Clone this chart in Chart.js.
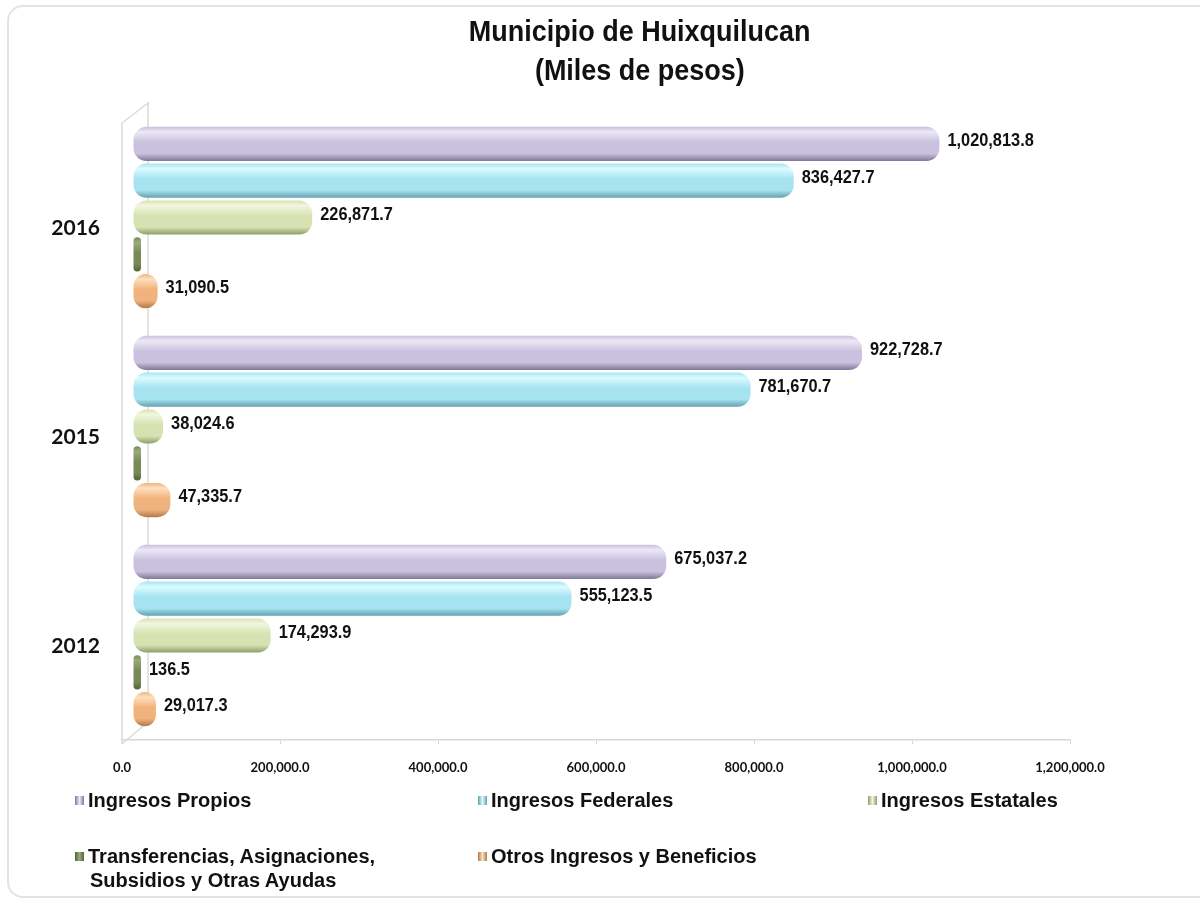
<!DOCTYPE html>
<html>
<head>
<meta charset="utf-8">
<script src="https://cdn.jsdelivr.net/npm/chart.js@4"></script>
<style>
  html, body { margin: 0; padding: 0; background: #fff; }
  #wrap { position: relative; width: 1200px; height: 903px; overflow: hidden; }
  #card { position: absolute; left: 7px; top: 5px; width: 1220px; height: 893px;
          border: 2px solid #e4e4dc; border-radius: 16px; box-sizing: border-box; }
  #title { position: absolute; left: 420px; width: 440px; top: 12px; text-align: center;
           font: bold 29px "Liberation Sans", Arial, sans-serif; line-height: 39px; color: #111; }
  #title span { display: inline-block; transform: scaleX(0.93); }
  canvas { position: absolute; left: 0; top: 0; }
  .lg { position: absolute; font: bold 20px "Liberation Sans", Arial, sans-serif; color: #111;
        line-height: 24px; white-space: nowrap; }
  .lg i { display: inline-block; width: 9px; height: 9px; margin-right: 4px; vertical-align: 2px; }
</style>
</head>
<body>
<div id="wrap">
  <div id="card"></div>
  <canvas id="chart" width="1200" height="903"></canvas>
  <div id="title"><span>Municipio de Huixquilucan</span><br><span>(Miles de pesos)</span></div>
  <div id="legend"></div>
</div>
<script>
const categories = ["2016", "2015", "2012"];
const seriesNames = [
  "Ingresos Propios",
  "Ingresos Federales",
  "Ingresos Estatales",
  "Transferencias, Asignaciones,\nSubsidios y Otras Ayudas",
  "Otros Ingresos y Beneficios"
];
const propios = [1020813.8, 922728.7, 675037.2];
const federales = [836427.7, 781670.7, 555123.5];
const estatales = [226871.7, 38024.6, 174293.9];
const transferencias = [0, 0, 136.5];
const otros = [31090.5, 47335.7, 29017.3];
const xMax = 1200000;
const xStep = 200000;

// light / main / dark shades for the cylinder look
const shades = [
  ["#ece8f6", "#c9c1de", "#7f7798"],
  ["#dcfbff", "#a6e4f1", "#64a0ae"],
  ["#f2f6df", "#d7e2b2", "#8c9c6a"],
  ["#9aab7a", "#788a58", "#52623a"],
  ["#fde0c0", "#f1b37d", "#b07a48"]
];
const seriesData = [propios, federales, estatales, transferencias, otros];
const SHIFT = 11;

function fmt(v) {
  return v.toLocaleString("en-US", { minimumFractionDigits: 1, maximumFractionDigits: 1 });
}

function cylinder(cols) {
  return (c) => {
    const el = c.element;
    if (!el || el.y == null || !el.height) return cols[1];
    const top = el.y - el.height / 2, bot = el.y + el.height / 2;
    const g = c.chart.ctx.createLinearGradient(0, top, 0, bot);
    g.addColorStop(0, cols[1]);
    g.addColorStop(0.15, cols[0]);
    g.addColorStop(0.45, cols[1]);
    g.addColorStop(0.78, cols[1]);
    g.addColorStop(1, cols[2]);
    return g;
  };
}

const depthPlugin = {
  id: "depth",
  beforeDatasetsDraw(chart) {
    const { ctx, chartArea: a } = chart;
    ctx.save();
    ctx.strokeStyle = "#dcdcd2";
    ctx.lineWidth = 1.5;
    ctx.beginPath();
    ctx.moveTo(a.left, a.bottom + 4);
    ctx.lineTo(a.left, a.top + 10);
    ctx.lineTo(a.left + 26, a.top - 10);
    ctx.lineTo(a.left + 26, a.bottom - 18);
    ctx.lineTo(a.left, a.bottom + 4);
    ctx.stroke();
    ctx.restore();
    ctx.save();
    ctx.translate(SHIFT, 0);
  },
  afterDatasetsDraw(chart) {
    const { ctx } = chart;
    ctx.restore();
    ctx.save();
    ctx.fillStyle = "#111";
    ctx.textBaseline = "middle";
    ctx.font = "bold 19px 'Liberation Sans', Arial, sans-serif";
    chart.data.datasets.forEach((ds, di) => {
      const meta = chart.getDatasetMeta(di);
      meta.data.forEach((bar, i) => {
        const v = ds.data[i];
        if (!v) return;
        const x = Math.max(bar.x, chart.scales.x.getPixelForValue(0) + 7) + SHIFT + 8;
        ctx.save();
        ctx.translate(x, bar.y - 3);
        ctx.scale(0.86, 1);
        ctx.fillText(fmt(v), 0, 0);
        ctx.restore();
      });
    });
    ctx.restore();
  }
};

const chart = new Chart(document.getElementById("chart"), {
  type: "bar",
  data: {
    labels: categories,
    datasets: seriesNames.map((name, k) => ({
      label: name,
      data: seriesData[k],
      backgroundColor: cylinder(shades[k]),
      borderWidth: 0,
      borderRadius: k === 3 ? { topLeft: 5, bottomLeft: 5, topRight: 5, bottomRight: 5 } : 13,
      borderSkipped: false,
      minBarLength: k === 3 ? 8 : 0,
      categoryPercentage: 0.88,
      barPercentage: 0.93
    }))
  },
  options: {
    indexAxis: "y",
    responsive: false,
    animation: false,
    layout: { padding: { left: 0, right: 130, top: 113, bottom: 123 } },
    plugins: {
      legend: { display: false },
      title: { display: false },
      tooltip: { enabled: false }
    },
    scales: {
      x: {
        min: 0,
        max: xMax,
        ticks: {
          stepSize: xStep,
          color: "#111",
          padding: 16,
          font: { family: "Lato, 'Liberation Sans', sans-serif", weight: "bold", size: 13 },
          callback: (v) => fmt(v)
        },
        grid: { display: true, drawOnChartArea: false, color: "#d8d8d0", tickLength: 4 },
        border: { color: "#d8d8d0", width: 1.5 },
        afterFit(s) { s.height = 40; }
      },
      y: {
        ticks: {
          color: "#111",
          padding: 14,
          labelOffset: 11,
          font: { family: "Lato, 'Liberation Sans', sans-serif", weight: "bold", size: 21 }
        },
        grid: { display: false },
        border: { display: false },
        afterFit(s) { s.width = 122; }
      }
    }
  },
  plugins: [depthPlugin]
});
// second pass so the gradients know each bar's position
chart.update();

// legend built from the series names
const legendPos = [[75, 788], [478, 788], [868, 788], [75, 844], [478, 844]];
const legend = document.getElementById("legend");
seriesNames.forEach((name, k) => {
  const d = document.createElement("div");
  d.className = "lg";
  d.style.left = legendPos[k][0] + "px";
  d.style.top = legendPos[k][1] + "px";
  const lines = name.split("\n");
  d.innerHTML = `<i style="background:linear-gradient(90deg,${shades[k][2]},${shades[k][0]},${shades[k][2]})"></i>` +
    lines[0] + (lines[1] ? `<br><span style="padding-left:15px">${lines[1]}</span>` : "");
  legend.appendChild(d);
});
</script>
</body>
</html>
